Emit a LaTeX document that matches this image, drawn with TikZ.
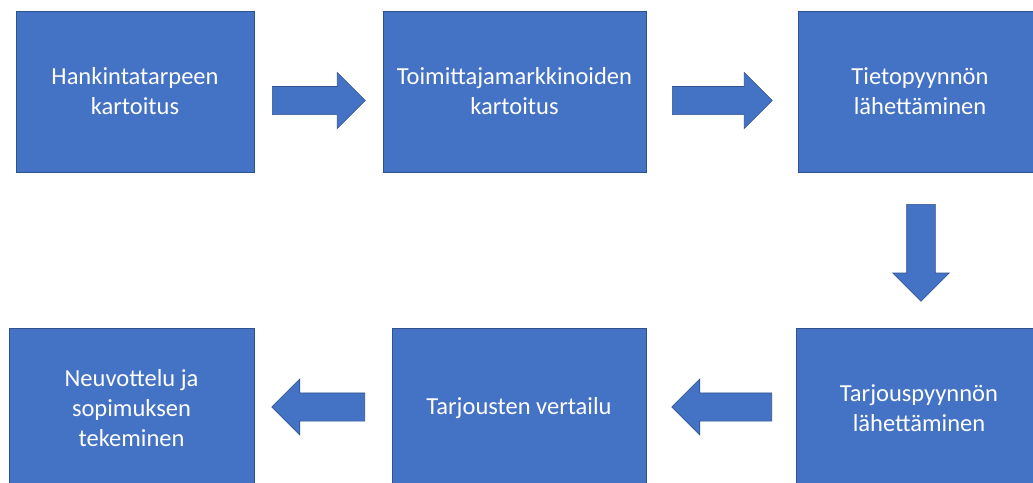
\documentclass[tikz,border=0pt]{standalone}
\usepackage{fontspec}
\setmainfont{Carlito}
\usetikzlibrary{shapes.arrows}
\definecolor{vaihesin}{HTML}{4472C4}
\definecolor{vaihereuna}{HTML}{2F528F}

\begin{document}
\begin{tikzpicture}[x=1pt,y=-1pt,
    vaihe/.style={rectangle,fill=vaihesin,draw=vaihereuna,line width=0.6pt,
      text=white,align=center,inner sep=0pt,minimum height=161pt,
      font=\fontsize{24.5}{30}\selectfont},
    nuoli/.style={single arrow,fill=vaihesin,draw=vaihereuna,line width=0.6pt,
      inner sep=13.75pt,minimum width=55pt,single arrow head extend=14pt,anchor=tail}]
  \clip (0,0) rectangle (1033,482);
  \fill[white] (0,0) rectangle (1033,482);

  \node[vaihe,minimum width=238pt] (tarve)     at (135,91.5)  {Hankintatarpeen\\kartoitus};
  \node[vaihe,minimum width=263pt] (markkinat) at (514.5,91.5) {Toimittajamarkkinoiden\\kartoitus};
  \node[vaihe,minimum width=244pt] (rfi)       at (920,91.5)  {Tietopyynnön\\lähettäminen};
  \node[vaihe,minimum width=246pt,minimum height=159pt] (rfq)       at (919,408) {Tarjouspyynnön\\lähettäminen};
  \node[vaihe,minimum width=254pt,minimum height=159pt] (vertailu)  at (519,408) {Tarjousten vertailu};
  \node[vaihe,minimum width=245pt,minimum height=159pt] (sopimus)   at (131.5,408) {Neuvottelu ja\\sopimuksen\\tekeminen};

  \node[nuoli,minimum height=93pt] (n1) at (272,100.5) {};
  \node[nuoli,minimum height=100pt] (n2) at (672,100.5) {};
  \node[nuoli,minimum height=97pt,inner sep=14pt,minimum width=56pt,rotate=-90] (n3) at (921,204) {};
  \node[nuoli,minimum height=100pt,rotate=180] (n4) at (772,407) {};
  \node[nuoli,minimum height=93pt,rotate=180] (n5) at (365,407) {};
\end{tikzpicture}
\end{document}
